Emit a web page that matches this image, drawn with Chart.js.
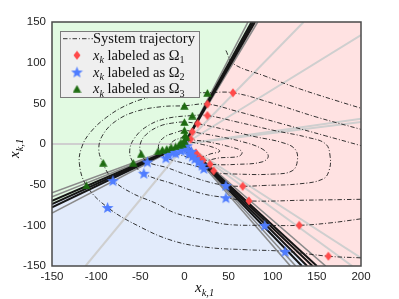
<!DOCTYPE html>
<html>
<head>
<meta charset="utf-8">
<script src="https://cdn.jsdelivr.net/npm/chart.js@4.4.1/dist/chart.umd.min.js"></script>
<style>
  html, body { margin: 0; padding: 0; background: #fff; }
  #wrap { width: 399px; height: 299px; }
</style>
</head>
<body>
<div id="wrap"><canvas id="c" width="399" height="299"></canvas></div>
<script>
// axis ranges
const xRange = [-150, 200];
const yRange = [-150, 150];

// region polygons (corners of the partition)
const regionGreen = [[0, 0], [78, 150], [-150, 150], [-150, -74]];
const regionRed = [[0, 0], [78, 150], [200, 150], [200, -150], [140, -150]];
const regionBlue = [[0, 0], [-150, -74], [-150, -150], [140, -150]];

// separating lines (segments)
const boundaryBlack = [
  [[0, 0], [76, 150]], [[0, 0], [78, 150]], [[0, 0], [80, 150]],
  [[0, 0], [-150, -70]], [[0, 0], [-150, -74]], [[0, 0], [-150, -78]],
  [[0, 0], [133, -150]], [[0, 0], [139, -150]], [[0, 0], [145, -150]], [[0, 0], [150, -150]]
];
const boundaryGray = [
  [[0, 0], [72, 150]], [[0, 0], [83, 150]],
  [[0, 0], [-150, -60]], [[0, 0], [-150, -65]], [[0, 0], [-150, -85]],
  [[0, 0], [120, -150]], [[0, 0], [126, -150]], [[0, 0], [160, -150]]
];
const helperLines = [
  [[-150, 0], [0, 0]], [[2, 0], [-112, -150]], [[0, 0], [135, 150]], [[0, 0], [200, 134]],
  [[0, 0], [200, 31]], [[0, 0], [200, 27]], [[0, 0], [200, -140]], [[0, 0], [190, -150]]
];

// system trajectories
const trajU = [[47, 115], [55, 99], [90, 84], [130, 68], [170, 54], [200, 44]];
const trajA = [[200, -140], [163, -138], [114, -132], [70, -130], [25, -127], [-13, -119], [-50, -102],
  [-87, -78], [-111, -51], [-119, -24], [-116, -3], [-106, 15], [-88, 33], [-65, 48], [-38, 58],
  [-10, 63], [26, 63], [55, 63], [100, 50], [150, 33], [200, 18]];
const trajB = [[200, -92], [165, -97], [130, -100], [91, -100], [50, -99], [25, -94], [-10, -85],
  [-32, -73], [-60, -60], [-81, -44], [-93, -22], [-97, -5], [-92, 12], [-78, 28], [-55, 40],
  [-25, 46], [0, 47], [26, 49], [60, 40], [110, 25], [160, 10], [200, -2]];
const trajC = [[200, -68], [140, -69], [73, -70], [47, -66], [20, -61], [-13, -49], [-47, -36],
  [-58, -23], [-62, -8], [-56, 8], [-42, 22], [-22, 31], [9, 35], [26, 35], [60, 27], [100, 17],
  [140, 8], [160, 0], [165, -15], [164, -32], [157, -43], [130, -49], [90, -51], [66, -52], [47, -51],
  [25, -46], [0, -37], [-20, -29], [-42, -22], [-49, -12], [-50, 0], [-43, 12], [-28, 22], [-12, 26],
  [0, 27], [15, 25], [45, 18], [80, 9], [110, 2], [125, -6], [128, -20], [122, -33], [100, -37],
  [60, -37], [34, -35], [22, -30], [5, -25], [-21, -17], [-28, -9], [-29, 0], [-22, 9], [-10, 14],
  [0, 17], [9, 15], [35, 10], [65, 3], [88, -6], [95, -15], [88, -22], [60, -25], [29, -25], [18, -22],
  [0, -15], [-13, -10], [-17, -3], [-12, 4], [-3, 8], [1, 11], [7, 6], [25, 3], [50, -3], [65, -9],
  [62, -15], [40, -17], [21, -20], [8, -13], [-3, -7], [-7, -2], [-4, 2], [3, 3], [18, 0], [35, -5],
  [40, -9], [30, -12], [17, -16], [6, -8], [0, -2], [0, 0]];

// labeled samples x_k
const omega1Pts = [[55, 63], [26, 49], [26, 35], [15, 25], [9, 15], [7, 6], [13, -11], [17, -16],
  [21, -20], [29, -25], [33, -33], [66, -52], [73, -70], [130, -100], [163, -138]];
const omega2Pts = [[114, -132], [91, -100], [47, -66], [47, -51], [22, -30], [-87, -78], [-81, -45],
  [-46, -36], [-42, -22], [-21, -17], [-13, -10], [-18, -13], [-10, -11], [-4, -8], [2, -6], [5, -12],
  [9, -15], [12, -18], [16, -22], [20, -26], [-1, -3], [3, -2], [8, -9]];
const omega3Pts = [[26, 63], [0, 47], [9, 35], [0, 27], [0, 17], [1, 11], [-92, -23], [-111, -51],
  [-58, -23], [-49, -12], [-30, -9], [-25, -7], [-20, -6], [-15, -4], [-10, -3], [-6, -1], [-2, 0],
  [0, 4], [2, 8], [-4, 2]];

const toXY = arr => arr.map(p => ({ x: p[0], y: p[1] }));

// marker images
function makeMarker(w, h, color, draw) {
  const cv = document.createElement('canvas');
  cv.width = w; cv.height = h;
  const g = cv.getContext('2d');
  g.fillStyle = color;
  g.beginPath();
  draw(g, w, h);
  g.closePath();
  g.fill();
  return cv;
}
const diamondImg = makeMarker(8, 10, '#ff4a4a', (g, w, h) => {
  g.moveTo(w / 2, 0.5); g.lineTo(w - 0.5, h / 2); g.lineTo(w / 2, h - 0.5); g.lineTo(0.5, h / 2);
});
const starImg = makeMarker(13, 13, '#4f7dff', (g, w, h) => {
  for (let i = 0; i < 10; i++) {
    const r = i % 2 === 0 ? 6.2 : 2.6;
    const a = -Math.PI / 2 + i * Math.PI / 5;
    const px = w / 2 + r * Math.cos(a), py = h / 2 + 0.6 + r * Math.sin(a);
    if (i === 0) g.moveTo(px, py); else g.lineTo(px, py);
  }
});
const triImg = makeMarker(9, 8, '#1d6b10', (g, w, h) => {
  g.moveTo(w / 2, 0.3); g.lineTo(w - 0.3, h - 0.3); g.lineTo(0.3, h - 0.3);
});

const datasets = [];
function markerSet(pts, img) {
  datasets.push({ data: toXY(pts), showLine: false, pointStyle: img, pointRadius: 4, order: 0 });
}
markerSet(omega3Pts, triImg);
markerSet(omega2Pts, starImg);
markerSet(omega1Pts, diamondImg);

[trajU, trajA, trajB, trajC].forEach(t => {
  datasets.push({ data: toXY(t), showLine: true, pointRadius: 0, borderColor: '#1e1e1e',
    borderWidth: 0.9, borderDash: [4.5, 2, 1, 2], tension: 0.4, order: 1 });
});
boundaryBlack.forEach(s => {
  datasets.push({ data: toXY(s), showLine: true, pointRadius: 0, borderColor: '#151515', borderWidth: 2, order: 2 });
});
boundaryGray.forEach(s => {
  datasets.push({ data: toXY(s), showLine: true, pointRadius: 0, borderColor: '#8a8a8a', borderWidth: 1.6, order: 3 });
});
helperLines.forEach(s => {
  datasets.push({ data: toXY(s), showLine: true, pointRadius: 0, borderColor: '#cfcfcf', borderWidth: 2, order: 4 });
});

const serif = '"Liberation Serif", "Times New Roman", serif';

// draw x_k style math text: parts = [[text, italic, sub]]
function drawParts(ctx, parts, x, y, size) {
  let cx = x;
  parts.forEach(([txt, italic, sub]) => {
    const s = sub ? size * 0.7 : size;
    ctx.font = (italic ? 'italic ' : '') + s + 'px ' + serif;
    ctx.fillText(txt, cx, sub ? y + size * 0.25 : y);
    cx += ctx.measureText(txt).width;
  });
  return cx;
}

const decor = {
  id: 'decor',
  beforeDatasetsDraw(chart) {
    const { ctx, chartArea: a, scales: { x, y } } = chart;
    ctx.save();
    ctx.beginPath(); ctx.rect(a.left, a.top, a.right - a.left, a.bottom - a.top); ctx.clip();
    [[regionGreen, '#e2fae2'], [regionRed, '#ffe2e2'], [regionBlue, '#e2ebfb']].forEach(([poly, col]) => {
      ctx.fillStyle = col;
      ctx.beginPath();
      poly.forEach((p, i) => {
        const px = x.getPixelForValue(p[0]), py = y.getPixelForValue(p[1]);
        if (i === 0) ctx.moveTo(px, py); else ctx.lineTo(px, py);
      });
      ctx.closePath(); ctx.fill();
    });
    ctx.restore();
  },
  afterDatasetsDraw(chart) {
    const { ctx, chartArea: a } = chart;
    ctx.save();
    ctx.strokeStyle = '#4a4a4a'; ctx.lineWidth = 1.5;
    ctx.strokeRect(a.left, a.top, a.right - a.left, a.bottom - a.top);
    ctx.restore();
  },
  afterDraw(chart) {
    const { ctx } = chart;
    ctx.save();
    // legend box
    ctx.fillStyle = '#efefef';
    ctx.fillRect(60, 31, 140, 66);
    ctx.strokeStyle = '#7a7a7a'; ctx.lineWidth = 1;
    ctx.strokeRect(60.5, 31.5, 139, 66);
    ctx.fillStyle = '#111';
    ctx.textBaseline = 'alphabetic';
    const rows = [38.7, 55.3, 72, 88.7];
    // trajectory sample
    ctx.strokeStyle = '#1e1e1e'; ctx.lineWidth = 0.9; ctx.setLineDash([4.5, 2, 1, 2]);
    ctx.beginPath(); ctx.moveTo(63, rows[0]); ctx.lineTo(93, rows[0]); ctx.stroke();
    ctx.setLineDash([]);
    drawParts(ctx, [['System trajectory', false, false]], 93, rows[0] + 4.5, 14.5);
    const imgs = [diamondImg, starImg, triImg];
    ['1', '2', '3'].forEach((n, i) => {
      const yy = rows[i + 1];
      const im = imgs[i];
      ctx.drawImage(im, 77 - im.width / 2, yy - im.height / 2);
      drawParts(ctx, [['x', true, false], ['k', true, true], [' labeled as \u03A9', false, false], [n, false, true]],
        93, yy + 4.5, 14.5);
    });
    // axis titles
    drawParts(ctx, [['x', true, false], ['k,1', true, true]], 195, 292, 15);
    ctx.translate(19, 158);
    ctx.rotate(-Math.PI / 2);
    drawParts(ctx, [['x', true, false], ['k,1', true, true]], 0, 0, 15);
    ctx.restore();
  }
};

const tickFont = { family: '"Liberation Sans", Arial, sans-serif', size: 11.5 };

new Chart(document.getElementById('c'), {
  type: 'scatter',
  data: { datasets: datasets },
  options: {
    responsive: false,
    animation: false,
    events: [],
    layout: { padding: { top: 22, right: 38, left: 0, bottom: 0 } },
    plugins: { legend: { display: false }, tooltip: { enabled: false } },
    scales: {
      x: {
        min: xRange[0], max: xRange[1],
        ticks: { stepSize: 50, color: '#222', font: tickFont, padding: 4, maxRotation: 0 },
        grid: { display: false, drawTicks: false },
        border: { display: false },
        afterFit: s => { s.height = 33; }
      },
      y: {
        min: yRange[0], max: yRange[1],
        ticks: { stepSize: 50, color: '#222', font: tickFont, padding: 6 },
        grid: { display: false, drawTicks: false },
        border: { display: false },
        afterFit: s => { s.width = 52; }
      }
    }
  },
  plugins: [decor]
});
</script>
</body>
</html>
